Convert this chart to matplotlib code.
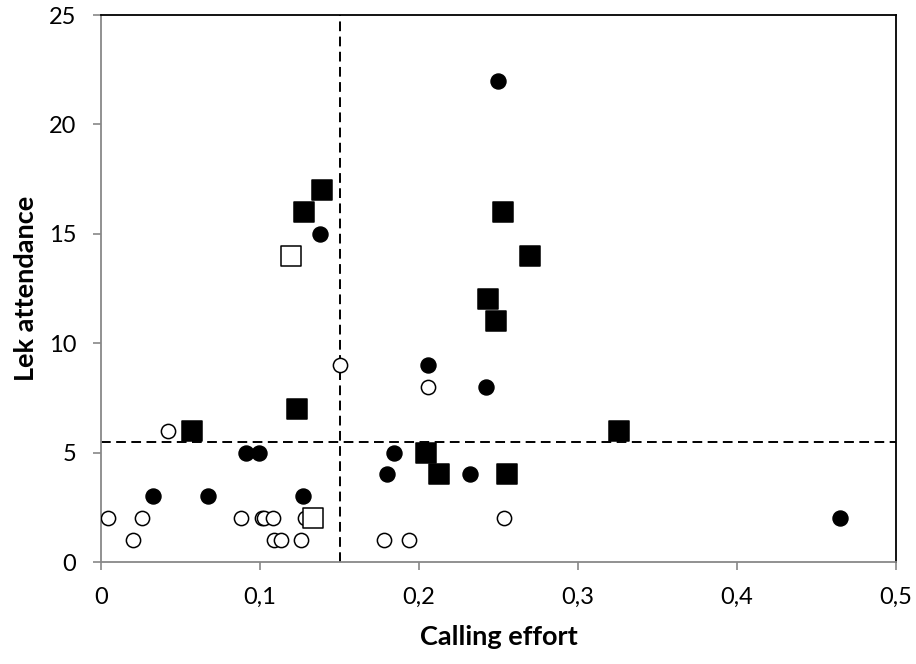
import matplotlib
matplotlib.use('Agg')
import matplotlib.pyplot as plt

# filled circles
fc_x = [0.0325, 0.0674, 0.0915, 0.0995, 0.127, 0.138, 0.1798, 0.1846, 0.2058, 0.2322, 0.242, 0.2499, 0.465]
fc_y = [3, 3, 5, 5, 3, 15, 4, 5, 9, 4, 8, 22, 2]
# open circles
oc_x = [0.0044, 0.020, 0.026, 0.042, 0.088, 0.101, 0.1024, 0.108, 0.109, 0.113, 0.126, 0.128,
        0.1505, 0.1778, 0.1937, 0.2058, 0.2533]
oc_y = [2, 1, 2, 6, 2, 2, 2, 2, 1, 1, 1, 2, 9, 1, 1, 8, 2]
# filled squares
fs_x = [0.057, 0.1235, 0.1275, 0.139, 0.2043, 0.2129, 0.2433, 0.2483, 0.2526, 0.2552, 0.270, 0.326]
fs_y = [6, 7, 16, 17, 5, 4, 12, 11, 16, 4, 14, 6]
# open squares
os_x = [0.1195, 0.1335]
os_y = [14, 2]

x_thr = 0.1505
y_thr = 5.5
x_ticks = [0, 0.1, 0.2, 0.3, 0.4, 0.5]
x_labels = ['0', '0,1', '0,2', '0,3', '0,4', '0,5']
y_ticks = [0, 5, 10, 15, 20, 25]

plt.rcParams['font.family'] = ['Lato', 'DejaVu Sans']

fig = plt.figure(figsize=(9.16, 6.64), dpi=100)
ax = fig.add_axes([0.1103, 0.1536, 0.8677, 0.8238])

ax.axvline(x_thr, color='k', lw=1.4, ls=(0, (5, 2.8)), zorder=1)
ax.axhline(y_thr, color='k', lw=1.4, ls=(0, (5, 2.8)), zorder=1)

ax.scatter(oc_x, oc_y, s=105, facecolor='white', edgecolor='black', linewidth=1.1, zorder=3)
ax.scatter(fc_x, fc_y, s=115, facecolor='black', edgecolor='black', linewidth=1.1, zorder=3)
ax.scatter(fs_x, fs_y, s=210, marker='s', facecolor='black', edgecolor='black', linewidth=1.1, zorder=4)
ax.scatter(os_x, os_y, s=210, marker='s', facecolor='white', edgecolor='black', linewidth=1.1, zorder=4)

ax.set_xlim(0, 0.5)
ax.set_ylim(0, 25)
ax.set_xticks(x_ticks)
ax.set_xticklabels(x_labels)
ax.set_yticks(y_ticks)
ax.tick_params(axis='both', labelsize=17, color='#888888', length=6, width=1.2, pad=12)

for side in ['left', 'bottom']:
    ax.spines[side].set_color('#888888')
    ax.spines[side].set_linewidth(1.3)
for side in ['top', 'right']:
    ax.spines[side].set_color('black')
    ax.spines[side].set_linewidth(1.3)

ax.set_xlabel('Calling effort', fontsize=19.5, fontweight='bold')
ax.set_ylabel('Lek attendance', fontsize=19.5, fontweight='bold')
ax.xaxis.set_label_coords(0.5, -0.115)
ax.yaxis.set_label_coords(-0.079, 0.5)

fig.savefig('out.png', dpi=100)
